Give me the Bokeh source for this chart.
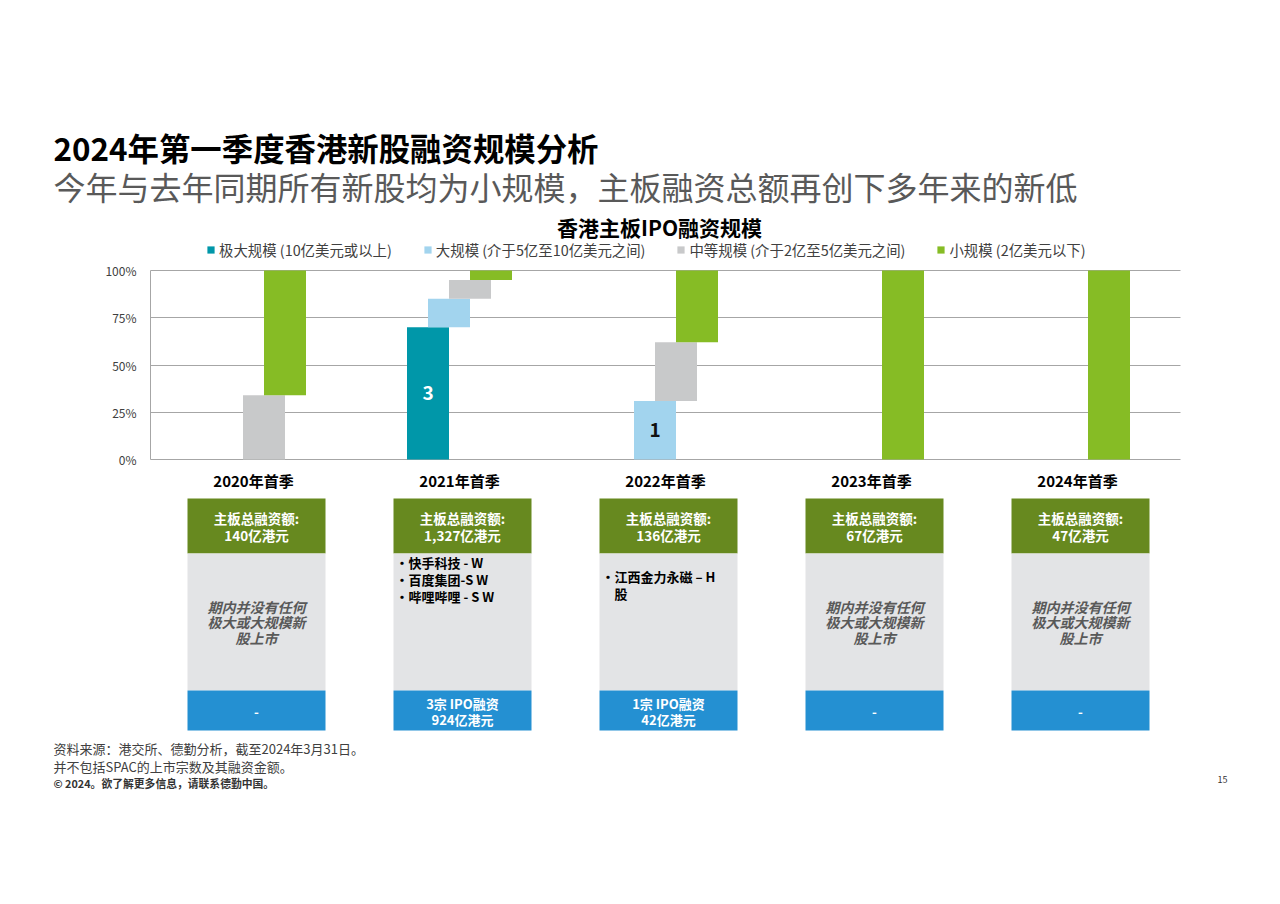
from bokeh.plotting import figure
from bokeh.models import (Range1d, ColumnDataSource, Label, Legend, LegendItem,
                          FixedTicker, NumeralTickFormatter)
from bokeh.transform import dodge
from bokeh.core.properties import value
from bokeh.embed import file_html
from bokeh.resources import INLINE

# ---------------- data ----------------
categories = ["2020年首季", "2021年首季", "2022年首季", "2023年首季", "2024年首季"]
series_names = ["极大规模 (10亿美元或以上)", "大规模 (介于5亿至10亿美元之间)",
                "中等规模 (介于2亿至5亿美元之间)", "小规模 (2亿美元以下)"]
very_large_pct = [0, 70, 0, 0, 0]
large_pct = [0, 15, 31, 0, 0]
medium_pct = [34, 10, 31, 0, 0]
small_pct = [66, 5, 38, 100, 100]
very_large_count = [0, 3, 0, 0, 0]
large_count = [0, 0, 1, 0, 0]
board_total_hkd_100m = ["140", "1,327", "136", "67", "47"]
major_ipos = [[], ["快手科技 - W", "百度集团-S W", "哔哩哔哩 - S W"], ["江西金力永磁 – H股"], [], []]
major_ipo_count = [0, 3, 1, 0, 0]
major_ipo_amount = ["", "924", "42", "", ""]
y_ticks = [0, 0.25, 0.5, 0.75, 1.0]

title_text = "2024年第一季度香港新股融资规模分析"
subtitle_text = "今年与去年同期所有新股均为小规模，主板融资总额再创下多年来的新低"
chart_title_text = "香港主板IPO融资规模"
no_major_text = "期内并没有任何\n极大或大规模新\n股上市"
notes = ["资料来源：港交所、德勤分析，截至2024年3月31日。", "并不包括SPAC的上市宗数及其融资金额。"]
copyright_text = "© 2024。欲了解更多信息，请联系德勤中国。"
page_no = "15"

# ---------------- style / layout (page pixels) ----------------
FONT = "Noto Sans CJK SC"
colors = ["#0097A9", "#A2D4EE", "#C8C9CA", "#86BC25"]
HEAD_C, BODY_C, FOOT_C = "#67891F", "#E3E4E6", "#2490D2"
W, H = 1264, 888
CAT0_PX, CAT_PX = 253, 206          # centre of first category, width of one category
Y0_PX, Y100_PX = 459, 270           # 0 % and 100 % lines
STEP = 21 / CAT_PX
BAR_W = 42 / CAT_PX
BOX_W = 138 / CAT_PX
BOX_SHIFT = 3 / CAT_PX
EM = 1.45                            # CJK font line box factor


def x_of(px):
    return (px - CAT0_PX) / CAT_PX


def y_of(py):
    return (Y0_PX - py) / (Y0_PX - Y100_PX)


p = figure(width=W, height=H, title=None,
           x_range=Range1d(x_of(0), x_of(W)), y_range=Range1d(y_of(H), y_of(0)),
           output_backend="svg", toolbar_location=None,
           min_border=0, min_border_left=0, min_border_right=0,
           min_border_top=0, min_border_bottom=0)
p.outline_line_color = None
p.background_fill_color = "white"
p.border_fill_color = "white"

idx = list(range(len(categories)))

# ---------------- bars ----------------
series_vals = [very_large_pct, large_pct, medium_pct, small_pct]
cum = [0] * len(categories)
renderers = []
for k, vals in enumerate(series_vals):
    xs, bots, tops = [], [], []
    for i, v in enumerate(vals):
        if v > 0:
            xs.append(i)
            bots.append(cum[i] / 100)
            tops.append((cum[i] + v) / 100)
        cum[i] += v
    src = ColumnDataSource(dict(x=xs, bottom=bots, top=tops))
    r = p.vbar(x=dodge("x", (k - 1.5) * STEP), width=BAR_W,
               bottom="bottom", top="top", source=src,
               fill_color=colors[k], line_color=None)
    renderers.append(r)

# count labels inside bars
for k, (counts, tcol) in enumerate([(very_large_count, "white"), (large_count, "#111111")]):
    vals = series_vals[k]
    xs, ys, ts = [], [], []
    for i, c in enumerate(counts):
        if c > 0:
            below = sum(series_vals[j][i] for j in range(k))
            xs.append(i)
            ys.append((below + vals[i] / 2) / 100)
            ts.append(str(c))
    p.text(x=dodge("x", (k - 1.5) * STEP), y="y", text="t",
           source=ColumnDataSource(dict(x=xs, y=ys, t=ts)),
           text_color=tcol, text_font=value(FONT), text_font_style="bold",
           text_font_size="19px", text_align="center", text_baseline="middle")

# ---------------- axes ----------------
ticker = FixedTicker(ticks=y_ticks)
p.yaxis.ticker = ticker
p.ygrid.ticker = ticker
p.yaxis.fixed_location = x_of(150)
p.yaxis.formatter = NumeralTickFormatter(format="0%")
p.yaxis.bounds = (0, 1)
p.yaxis.axis_line_color = "#A6A6A6"
p.yaxis.major_tick_line_color = None
p.yaxis.minor_tick_line_color = None
p.yaxis.major_label_text_font = FONT
p.yaxis.major_label_text_font_size = "12px"
p.yaxis.major_label_text_color = "#404040"
p.yaxis.major_label_standoff = 8
p.ygrid.grid_line_color = "#A6A6A6"
p.ygrid.cross_bounds = (x_of(150), x_of(1180))
p.xgrid.visible = False

p.xaxis.fixed_location = 0
p.xaxis.ticker = FixedTicker(ticks=idx)
p.xaxis.major_label_overrides = {i: c for i, c in zip(idx, categories)}
p.xaxis.axis_line_color = None
p.xaxis.major_tick_line_color = None
p.xaxis.minor_tick_line_color = None
p.xaxis.major_label_text_font = FONT
p.xaxis.major_label_text_font_style = "bold"
p.xaxis.major_label_text_font_size = "15px"
p.xaxis.major_label_text_color = "#000000"
p.xaxis.major_label_standoff = 4

# ---------------- legend ----------------
legend = Legend(items=[LegendItem(label=value(n), renderers=[r]) for n, r in zip(series_names, renderers)],
                orientation="horizontal", location=(206, H - 260),
                label_text_font=FONT, label_text_font_size="14.4px", label_text_color="#404040",
                glyph_width=9, glyph_height=9, spacing=31, label_standoff=4,
                padding=0, margin=0, label_height=16,
                background_fill_alpha=0, border_line_color=None)
p.add_layout(legend)

# ---------------- boxes ----------------
box_src = ColumnDataSource(dict(x=idx))
bx = dodge("x", BOX_SHIFT)
for top_px, bot_px, col in [(498, 553, HEAD_C), (553, 690, BODY_C), (690, 730, FOOT_C)]:
    p.vbar(x=bx, width=BOX_W, top=y_of(top_px), bottom=y_of(bot_px), source=box_src,
           fill_color=col, line_color=None)

head_txt = [f"主板总融资额:\n{t}亿港元" for t in board_total_hkd_100m]
p.text(x=bx, y=y_of(526), text="t", source=ColumnDataSource(dict(x=idx, t=head_txt)),
       text_color="white", text_font=value(FONT), text_font_style="bold", text_font_size="13.5px",
       text_align="center", text_baseline="middle", text_line_height=16 / (13.5 * EM))

empty_x = [i for i, m in zip(idx, major_ipos) if not m]
p.text(x=bx, y=y_of(622), text="t",
       source=ColumnDataSource(dict(x=empty_x, t=[no_major_text] * len(empty_x))),
       text_color="#595959", text_font=value(FONT), text_font_style="bold italic",
       text_font_size="14px", text_align="center", text_baseline="middle",
       text_line_height=16 / (14 * EM))

bullet_top_px = [0, 552, 566, 0, 0]
for i, names in enumerate(major_ipos):
    if not names:
        continue
    lines = []
    for n in names:
        if len(n) > 10:
            lines.append("•" + n[:-1])
            lines.append("\u3000" + n[-1])
        else:
            lines.append("•" + n)
    p.text(x=dodge("x", BOX_SHIFT - BOX_W / 2 + 2 / CAT_PX), y=y_of(bullet_top_px[i]),
           text="t", source=ColumnDataSource(dict(x=[i], t=["\n".join(lines)])),
           text_color="#000000", text_font=value(FONT), text_font_style="bold",
           text_font_size="13px", text_align="left", text_baseline="top",
           text_line_height=17 / (13 * EM))

foot_txt = [f"{n}宗 IPO融资\n{a}亿港元" if n else "-" for n, a in zip(major_ipo_count, major_ipo_amount)]
p.text(x=bx, y=y_of(711), text="t", source=ColumnDataSource(dict(x=idx, t=foot_txt)),
       text_color="white", text_font=value(FONT), text_font_style="bold", text_font_size="13px",
       text_align="center", text_baseline="middle", text_line_height=15 / (13 * EM))

# ---------------- titles & notes ----------------
def add_label(text, px, py, size, color="#000000", style="normal", align="left"):
    p.add_layout(Label(x=px, y=H - py, x_units="screen", y_units="screen", text=text,
                       text_font=FONT, text_font_size=size, text_color=color,
                       text_font_style=style, text_align=align, text_baseline="middle"))


add_label(title_text, 53, 147, "31.4px", "#000000", "bold")
add_label(subtitle_text, 53, 185, "32px", "#595959")
add_label(chart_title_text, 659, 226, "21px", "#000000", "bold", "center")
add_label(notes[0], 53, 748, "13px", "#404040")
add_label(notes[1], 53, 766, "13px", "#404040")
add_label(copyright_text, 53, 782, "10.8px", "#333333", "bold")
add_label(page_no, 1222, 779, "9px", "#333333", "normal", "center")

open("out.html", "w").write(file_html(p, INLINE))
